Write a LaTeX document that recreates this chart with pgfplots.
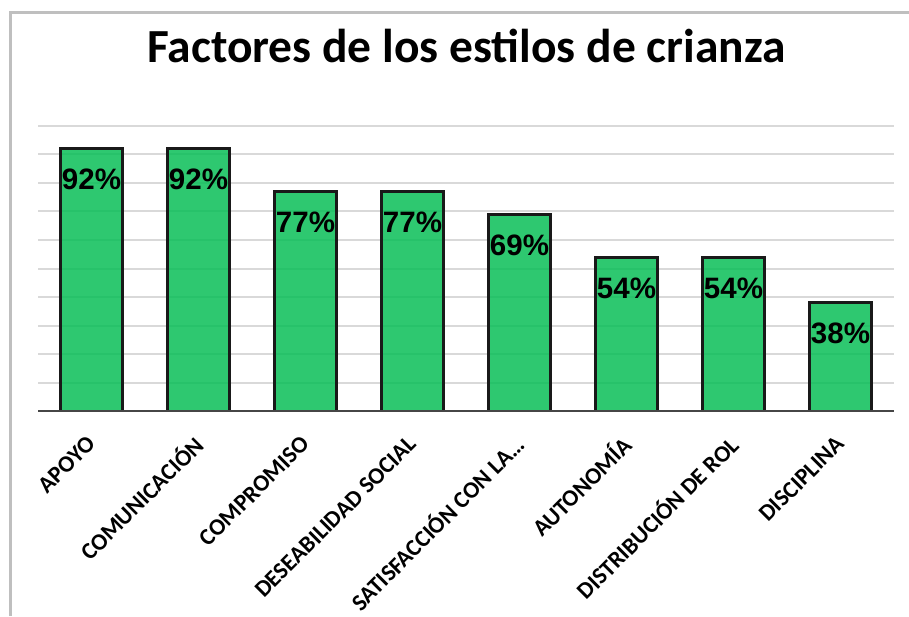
\documentclass[border=0pt]{standalone}
\usepackage{fontspec}
\setmainfont{Carlito}
\newfontfamily\arialfont{Liberation Sans}
\usepackage{pgfplots}
\pgfplotsset{compat=1.18}
\definecolor{bargreen}{RGB}{9,190,87}
\definecolor{gridgray}{RGB}{217,217,217}
\definecolor{framegray}{RGB}{191,191,191}
\definecolor{axisgray}{RGB}{70,70,70}
\begin{document}
\begin{tikzpicture}
\path[use as bounding box] (0,0) rectangle (909pt,616pt);
\draw[framegray, line width=3pt] (10pt,0) -- (10pt,603pt) -- (909pt,603pt);
\node[font=\bfseries\fontsize{47.5}{50}\selectfont, anchor=base] at (466.5pt,553pt) {Factores de los estilos de crianza};
\begin{axis}[
  at={(38pt,205pt)}, anchor=south west,
  scale only axis, width=856pt, height=285pt,
  xmin=-0.5, xmax=7.5, ymin=0, ymax=100,
  axis line style={draw=none},
  ytick={10,20,...,100}, yticklabels={}, ymajorgrids,
  major grid style={gridgray, line width=2pt},
  major tick length=0pt,
  xtick={0,...,7},
  xticklabels={APOYO, COMUNICACIÓN, COMPROMISO, DESEABILIDAD SOCIAL, SATISFACCIÓN CON LA…, AUTONOMÍA, DISTRIBUCIÓN DE ROL, DISCIPLINA},
  xticklabel style={rotate=45, anchor=east, inner sep=0pt, font=\bfseries\fontsize{23.5}{25}\selectfont},
  xticklabel shift=29pt,
  ybar, bar width=62pt,
  /pgf/number format/assume math mode=true,
  nodes near coords={\pgfmathprintnumber{\pgfplotspointmeta}\%},
  every node near coord/.append style={anchor=north, yshift=-19pt, inner sep=0pt, text=black, text opacity=1, fill opacity=1, font=\arialfont\bfseries\fontsize{29.5}{30}\selectfont},
]
\addplot[fill=bargreen, fill opacity=0.85, draw=black!90, line width=3pt]
  coordinates {(0,92) (1,92) (2,77) (3,77) (4,69) (5,54) (6,54) (7,38)};
\draw[axisgray, line width=3pt] (rel axis cs:0,0) -- (rel axis cs:1,0);
\end{axis}
\end{tikzpicture}
\end{document}
